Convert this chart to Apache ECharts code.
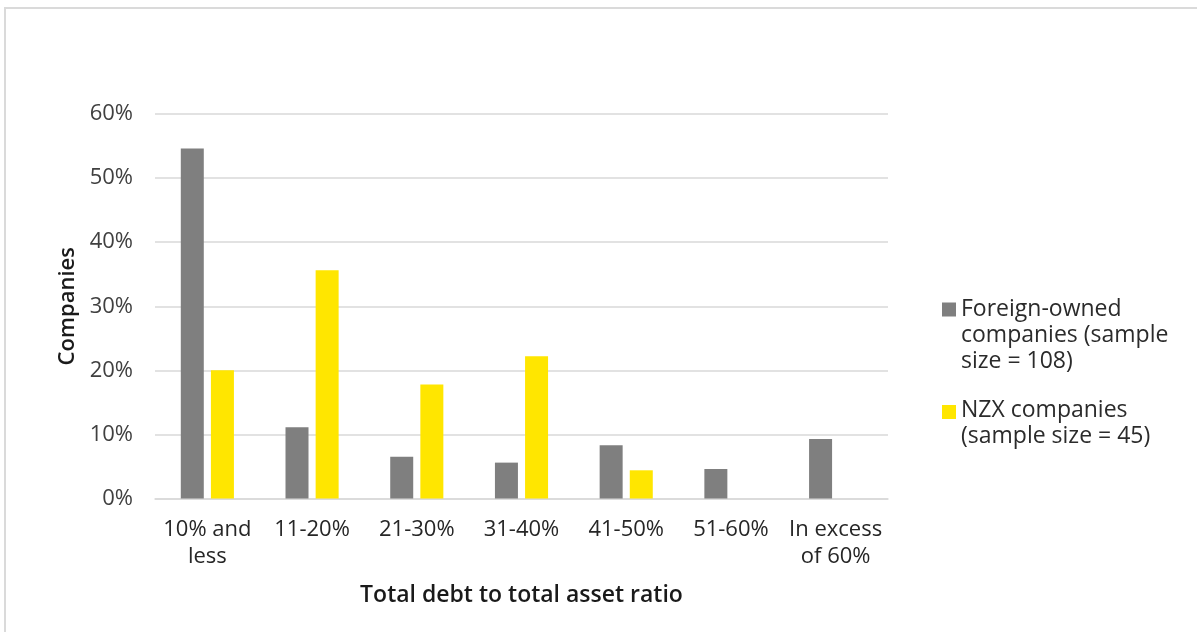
<!DOCTYPE html>
<html><head><meta charset="utf-8">
<script src="https://cdn.jsdelivr.net/npm/echarts@6/dist/echarts.min.js"></script>
<style>html,body{margin:0;padding:0;background:#fff;}#c{width:1197px;height:632px;}</style>
</head><body><div id="c"></div>
<script>
var categories = ['10% and\nless', '11-20%', '21-30%', '31-40%', '41-50%', '51-60%', 'In excess\nof 60%'];
var foreignOwned = [54.6, 11.1, 6.5, 5.6, 8.3, 4.6, 9.3];
var nzx = [20.0, 35.6, 17.8, 22.2, 4.4, null, null];
var yTicks = [0, 10, 20, 30, 40, 50, 60];
var seriesNames = ['Foreign-owned companies (sample size = 108)', 'NZX companies (sample size = 45)'];
var legendLabels = ['Foreign-owned\ncompanies (sample\nsize = 108)', 'NZX companies\n(sample size = 45)'];

var FONT = 'Open Sans';
var chart = echarts.init(document.getElementById('c'), null, {renderer: 'canvas'});
chart.setOption({
  backgroundColor: '#ffffff',
  animation: false,
  graphic: [{
    type: 'rect', silent: true, z: -1,
    shape: {x: 5, y: 8, width: 1400, height: 800},
    style: {fill: 'none', stroke: '#dadada', lineWidth: 2}
  }],
  grid: {left: 155, right: 309, top: 114, bottom: 133.5, containLabel: false},
  legend: [{
    data: [{name: seriesNames[0], icon: 'path://M0,0L0,0M0,78L0,78M0,6L14,6L14,20L0,20Z'}],
    left: 942, top: 296.5, padding: 0, orient: 'vertical',
    itemWidth: 14, itemHeight: 78,
    formatter: function () { return legendLabels[0]; },
    textStyle: {fontFamily: FONT, fontSize: 23, color: '#2b2b2b', lineHeight: 26}
  }, {
    data: [{name: seriesNames[1], icon: 'path://M0,0L0,0M0,52L0,52M0,7.5L14,7.5L14,21.5L0,21.5Z'}],
    left: 942, top: 397.5, padding: 0, orient: 'vertical',
    itemWidth: 14, itemHeight: 52,
    formatter: function () { return legendLabels[1]; },
    textStyle: {fontFamily: FONT, fontSize: 23, color: '#2b2b2b', lineHeight: 26}
  }],
  xAxis: {
    type: 'category', data: categories,
    name: 'Total debt to total asset ratio', nameLocation: 'middle', nameGap: 85,
    nameTextStyle: {fontFamily: FONT, fontSize: 23, fontWeight: 600, color: '#1a1a1a'},
    axisLine: {lineStyle: {color: '#d9d9d9', width: 1.5}},
    axisTick: {show: false},
    axisLabel: {fontFamily: FONT, fontSize: 22, color: '#262626', lineHeight: 27, margin: 18, interval: 0}
  },
  yAxis: {
    type: 'value', min: yTicks[0], max: yTicks[yTicks.length - 1], interval: 10,
    name: 'Companies', nameLocation: 'middle', nameGap: 73, nameRotate: 90,
    nameTextStyle: {fontFamily: FONT, fontSize: 22, fontWeight: 600, color: '#1a1a1a'},
    axisLine: {show: false}, axisTick: {show: false},
    splitLine: {lineStyle: {color: '#d9d9d9', width: 1.5}},
    axisLabel: {fontFamily: FONT, fontSize: 22, color: '#404040', margin: 22, formatter: '{value}%'}
  },
  series: [{
    name: seriesNames[0], type: 'bar', data: foreignOwned,
    barWidth: 23, barGap: '31%', itemStyle: {color: '#7f7f7f'}
  }, {
    name: seriesNames[1], type: 'bar', data: nzx,
    barWidth: 23, itemStyle: {color: '#ffe600'}
  }]
});
</script></body></html>
